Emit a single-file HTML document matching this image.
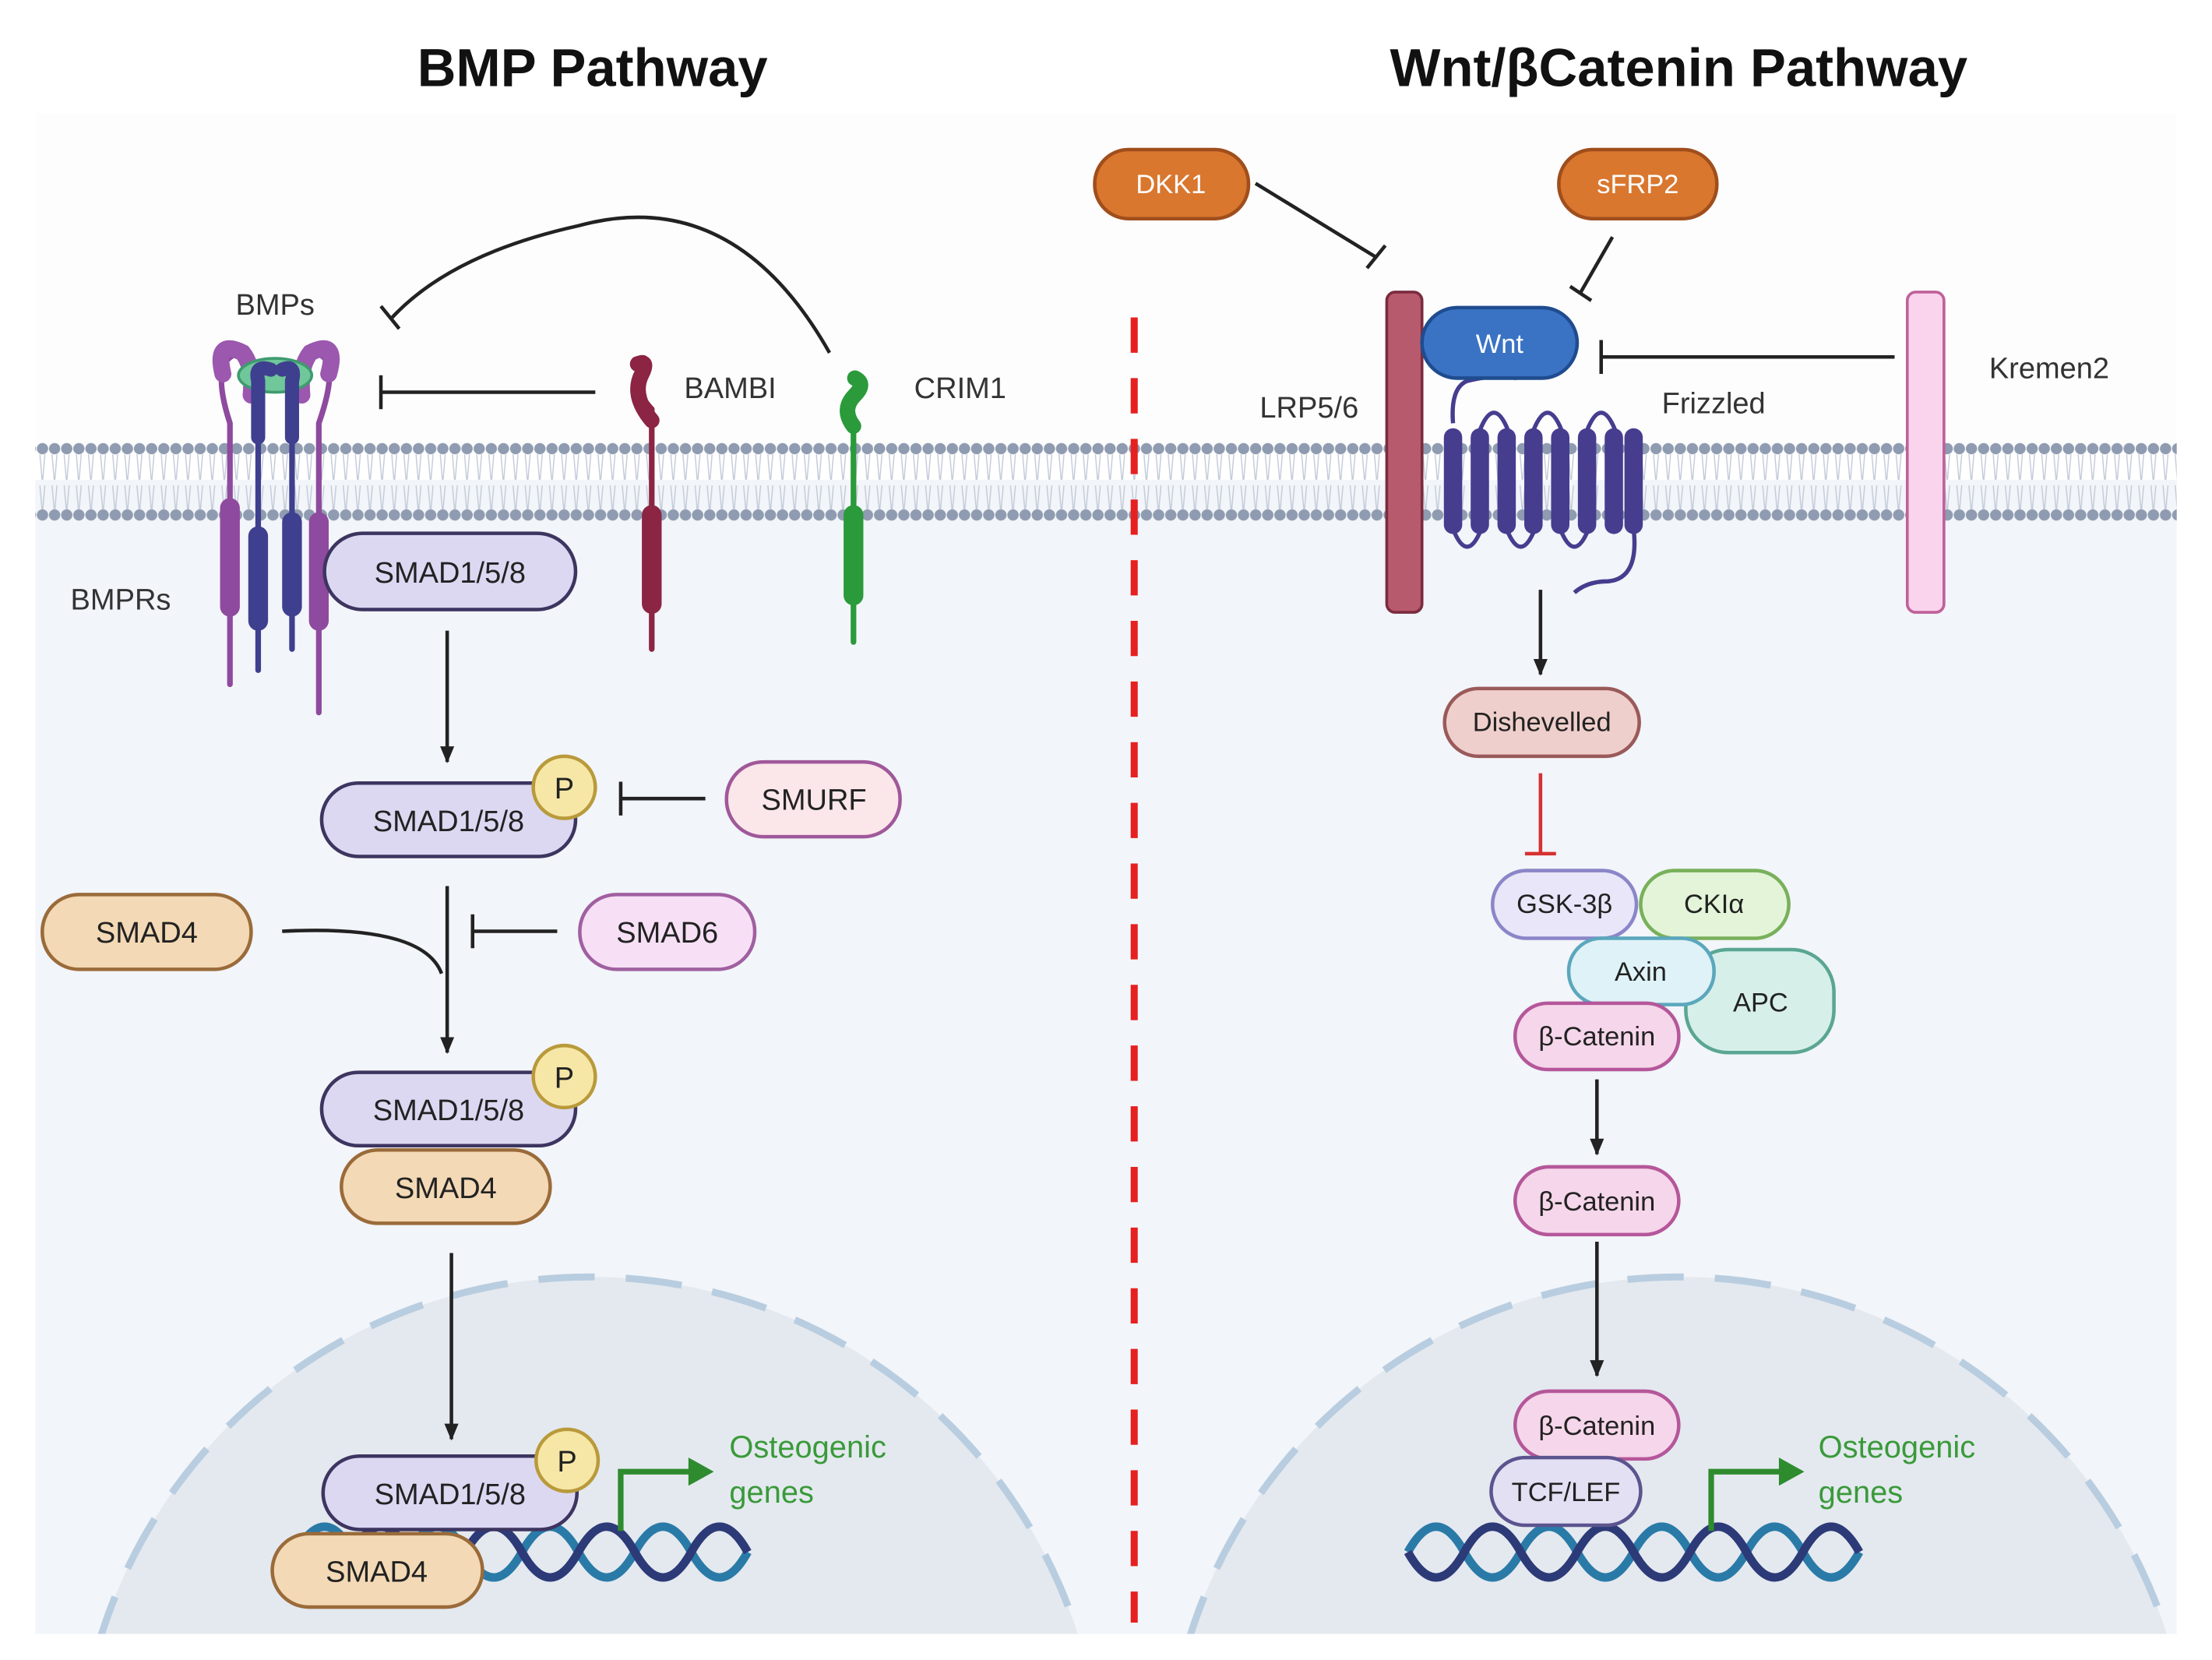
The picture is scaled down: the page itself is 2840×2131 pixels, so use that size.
<!DOCTYPE html>
<html><head><meta charset="utf-8"><style>
html,body{margin:0;padding:0;background:#fff;overflow:hidden;width:2840px;height:2131px}
svg{display:block}
text{font-family:"Liberation Sans",sans-serif}
</style></head><body>
<svg width="2840" height="2131" viewBox="0 0 1568 1176.5" preserveAspectRatio="none" xmlns="http://www.w3.org/2000/svg">
<defs>
<pattern id="mem" x="0" y="312" width="8.6" height="60" patternUnits="userSpaceOnUse">
<circle cx="4.3" cy="6" r="4" fill="#8f9bb0"/>
<circle cx="4.3" cy="53" r="4" fill="#8f9bb0"/>
<path d="M2.5 10 L4 28 M6 10 L4.5 28 M2.5 32 L4 49 M6 32 L4.5 49" stroke="#c3cbd8" stroke-width="0.8" fill="none"/>
</pattern>
<clipPath id="cl"><rect x="25" y="80" width="760" height="1078"/></clipPath>
<clipPath id="cr"><rect x="820" y="80" width="723" height="1078"/></clipPath>
<marker id="ar" markerWidth="12" markerHeight="12" refX="11" refY="6" orient="auto" markerUnits="userSpaceOnUse"><path d="M0 1 L12 6 L0 11Z" fill="#222"/></marker>
</defs>
<rect width="1568" height="1177" fill="#fff"/>
<rect x="25" y="80" width="1518" height="240" fill="#fdfdfe"/>
<rect x="25" y="340" width="1518" height="818" fill="#f2f5f9"/>
<!-- nuclei -->
<g clip-path="url(#cl)"><circle cx="418" cy="1268" r="363" fill="#e4e9ef" stroke="#b9cde0" stroke-width="5" stroke-dasharray="40 22"/></g>
<g clip-path="url(#cr)"><circle cx="1190" cy="1268" r="363" fill="#e4e9ef" stroke="#b9cde0" stroke-width="5" stroke-dasharray="40 22"/></g>
<rect x="25" y="312" width="1518" height="60" fill="url(#mem)"/>
<!-- titles -->
<text x="420" y="61" font-size="38" font-weight="bold" text-anchor="middle" fill="#111">BMP Pathway</text>
<text x="1190" y="61" font-size="38" font-weight="bold" text-anchor="middle" fill="#111">Wnt/βCatenin Pathway</text>
<!-- red dashed -->
<line x1="804" y1="225" x2="804" y2="1150" stroke="#e62020" stroke-width="5" stroke-dasharray="25 18"/>
<!-- BMP receptors -->
<g fill="none" stroke-linecap="round">
<path d="M163 485 V300 Q150 260 165 252 Q180 248 178 265" stroke="#8e4a9e" stroke-width="4"/>
<path d="M226 505 V300 Q240 260 228 252 Q215 248 214 265" stroke="#8e4a9e" stroke-width="4"/>
<path d="M183 475 V310 Q178 280 185 270" stroke="#3f3f8f" stroke-width="4"/>
<path d="M207 460 V310 Q212 280 205 270" stroke="#3f3f8f" stroke-width="4"/>
<path d="M163 360 V430 M226 370 V440" stroke="#8e4a9e" stroke-width="14"/>
<path d="M183 380 V440 M207 370 V430" stroke="#3f3f8f" stroke-width="14"/>
<path d="M158 265 Q152 240 172 250 Q180 260 178 280" stroke="#9b58ae" stroke-width="12"/>
<path d="M233 265 Q240 240 220 250 Q212 260 214 280" stroke="#9b58ae" stroke-width="12"/>
</g>
<ellipse cx="195" cy="266" rx="26" ry="12" fill="#6fc79a" stroke="#3f9b6f" stroke-width="2"/>
<path d="M183 310 V270 Q180 258 192 262 M207 310 V270 Q210 258 200 262" stroke="#3f3f8f" stroke-width="10" fill="none" stroke-linecap="round"/>
<!-- BAMBI -->
<path d="M462 460 V290 Q448 275 455 262 Q462 250 450 255" stroke="#8c2444" stroke-width="4" fill="none" stroke-linecap="round"/>
<path d="M462 365 V428" stroke="#8c2444" stroke-width="14" stroke-linecap="round"/>
<path d="M462 298 Q447 280 455 265 Q460 255 452 258" stroke="#8c2444" stroke-width="11" fill="none" stroke-linecap="round"/>
<!-- CRIM1 -->
<path d="M605 455 V300 Q597 290 605 282 Q615 272 607 268" stroke="#2a9a3a" stroke-width="4" fill="none" stroke-linecap="round"/>
<path d="M605 365 V422" stroke="#2a9a3a" stroke-width="14" stroke-linecap="round"/>
<path d="M605 302 Q596 290 606 280 Q614 272 606 268" stroke="#2a9a3a" stroke-width="11" fill="none" stroke-linecap="round"/>
<!-- inhibition arcs left -->
<g stroke="#222" stroke-width="2.5" fill="none">
<path d="M588 250 Q520 130 410 160 Q320 180 278 225"/>
<path d="M270 217 L283 233"/>
<path d="M422 278 H270 M270 266 V290"/>
<path d="M500 566 H440 M440 554 V578"/>
<path d="M395 660 H335 M335 648 V672"/>
<path d="M200 660 Q300 655 313 690"/>
<line x1="317" y1="447" x2="317" y2="540" marker-end="url(#ar)"/>
<line x1="317" y1="628" x2="317" y2="746" marker-end="url(#ar)"/>
<line x1="320" y1="888" x2="320" y2="1020" marker-end="url(#ar)"/>
</g>
<!-- text left labels -->
<g font-size="21" fill="#333">
<text x="167" y="223">BMPs</text>
<text x="485" y="282">BAMBI</text>
<text x="648" y="282">CRIM1</text>
<text x="50" y="432">BMPRs</text>
</g>
<!-- DNA -->
<g fill="none" stroke-width="6">
<path d="M210 1100 q20 -36 40 0 t40 0 t40 0 t40 0 t40 0 t40 0 t40 0 t40 0" stroke="#2a7aa8"/>
<path d="M210 1100 q20 36 40 0 t40 0 t40 0 t40 0 t40 0 t40 0 t40 0 t40 0" stroke="#2d3a78"/>
<path d="M998 1100 q20 -36 40 0 t40 0 t40 0 t40 0 t40 0 t40 0 t40 0 t40 0" stroke="#2a7aa8"/>
<path d="M998 1100 q20 36 40 0 t40 0 t40 0 t40 0 t40 0 t40 0 t40 0 t40 0" stroke="#2d3a78"/>
</g>
<!-- green arrows -->
<g stroke="#2e8b2e" stroke-width="4" fill="none"><path d="M440 1085 V1043 H490"/><path d="M1213 1085 V1043 H1263"/></g>
<path d="M488 1033 L506 1043 L488 1053Z M1261 1033 L1279 1043 L1261 1053Z" fill="#2e8b2e"/>
<g font-size="22" fill="#3a9a3a">
<text x="517" y="1033">Osteogenic</text><text x="517" y="1065">genes</text>
<text x="1289" y="1033">Osteogenic</text><text x="1289" y="1065">genes</text>
</g>
<!-- left pills -->
<g stroke-width="2.5" font-size="21" text-anchor="middle" fill="#222">
<rect x="230" y="378" width="178" height="54" rx="27" fill="#dcd8f2" stroke="#3d3560"/>
<text x="319" y="413" stroke="none">SMAD1/5/8</text>
<rect x="228" y="555" width="180" height="52" rx="26" fill="#dcd8f2" stroke="#3d3560"/>
<text x="318" y="589" stroke="none">SMAD1/5/8</text>
<rect x="515" y="540" width="123" height="53" rx="26" fill="#fbe6ea" stroke="#a0589a"/>
<text x="577" y="574" stroke="none">SMURF</text>
<rect x="30" y="634" width="148" height="53" rx="26" fill="#f3d9b5" stroke="#9a6b3a"/>
<text x="104" y="668" stroke="none">SMAD4</text>
<rect x="411" y="634" width="124" height="53" rx="26" fill="#f7e0f5" stroke="#a060a0"/>
<text x="473" y="668" stroke="none">SMAD6</text>
<rect x="228" y="760" width="180" height="52" rx="26" fill="#dcd8f2" stroke="#3d3560"/>
<text x="318" y="794" stroke="none">SMAD1/5/8</text>
<rect x="242" y="815" width="148" height="52" rx="26" fill="#f3d9b5" stroke="#9a6b3a"/>
<text x="316" y="849" stroke="none">SMAD4</text>
<rect x="229" y="1032" width="180" height="52" rx="26" fill="#dcd8f2" stroke="#3d3560"/>
<text x="319" y="1066" stroke="none">SMAD1/5/8</text>
<rect x="193" y="1087" width="149" height="52" rx="26" fill="#f3d9b5" stroke="#9a6b3a"/>
<text x="267" y="1121" stroke="none">SMAD4</text>
<circle cx="400" cy="558" r="22" fill="#f6e7a6" stroke="#b99a3b"/><text x="400" y="566" stroke="none">P</text>
<circle cx="400" cy="763" r="22" fill="#f6e7a6" stroke="#b99a3b"/><text x="400" y="771" stroke="none">P</text>
<circle cx="402" cy="1035" r="22" fill="#f6e7a6" stroke="#b99a3b"/><text x="402" y="1043" stroke="none">P</text>
</g>
<!-- right side -->
<rect x="983" y="207" width="25" height="227" rx="6" fill="#b85a6e" stroke="#7a2c3e" stroke-width="2"/>
<rect x="1352" y="207" width="26" height="227" rx="6" fill="#f9d4ec" stroke="#c0609a" stroke-width="2"/>
<g fill="none" stroke="#463d8f" stroke-width="3">
<path d="M1030 300 Q1028 275 1040 270 Q1060 265 1075 268"/>
<path d="M1030 375 q10 25 20 0 M1068 375 q10 25 20 0 M1106 375 q10 25 20 0"/>
<path d="M1049 305 q10 -25 20 0 M1087 305 q10 -25 20 0 M1125 305 q10 -25 20 0"/>
<path d="M1158 375 Q1162 410 1140 412 Q1125 412 1116 420"/>
</g>
<g stroke="#463d8f" stroke-width="13" stroke-linecap="round">
<line x1="1030" y1="310" x2="1030" y2="372"/><line x1="1049" y1="310" x2="1049" y2="372"/>
<line x1="1068" y1="310" x2="1068" y2="372"/><line x1="1087" y1="310" x2="1087" y2="372"/>
<line x1="1106" y1="310" x2="1106" y2="372"/><line x1="1125" y1="310" x2="1125" y2="372"/>
<line x1="1158" y1="310" x2="1158" y2="372"/><line x1="1144" y1="310" x2="1144" y2="372"/>
</g>
<g stroke="#222" stroke-width="2.5" fill="none">
<path d="M890 130 L975 182 M969 190 L982 174"/>
<path d="M1143 168 L1120 208 M1113 203 L1128 213"/>
<path d="M1343 253 H1135 M1135 241 V265"/>
<line x1="1092" y1="418" x2="1092" y2="478" marker-end="url(#ar)"/>
<line x1="1132" y1="765" x2="1132" y2="818" marker-end="url(#ar)"/>
<line x1="1132" y1="880" x2="1132" y2="975" marker-end="url(#ar)"/>
</g>
<path d="M1092 548 V605 M1081 605 H1103" stroke="#d63030" stroke-width="2.5"/>
<g font-size="21" fill="#333">
<text x="893" y="296">LRP5/6</text>
<text x="1178" y="293">Frizzled</text>
<text x="1410" y="268">Kremen2</text>
</g>
<g stroke-width="2.5" font-size="19" text-anchor="middle">
<rect x="776" y="106" width="109" height="49" rx="24" fill="#d9772f" stroke="#a04e1c"/>
<text x="830" y="137" fill="#fff" stroke="none">DKK1</text>
<rect x="1105" y="106" width="112" height="49" rx="24" fill="#d9772f" stroke="#a04e1c"/>
<text x="1161" y="137" fill="#fff" stroke="none">sFRP2</text>
<rect x="1008" y="218" width="110" height="50" rx="25" fill="#3a73c4" stroke="#1f4c8f"/>
<text x="1063" y="250" fill="#fff" stroke="none">Wnt</text>
<rect x="1024" y="488" width="138" height="48" rx="24" fill="#efcfcb" stroke="#9a5a5a"/>
<text x="1093" y="518" fill="#222" stroke="none">Dishevelled</text>
<rect x="1195" y="673" width="105" height="73" rx="30" fill="#d6efe9" stroke="#5aa693"/>
<text x="1248" y="717" fill="#222" stroke="none">APC</text>
<rect x="1058" y="617" width="102" height="48" rx="24" fill="#e8e6f8" stroke="#8a86c8"/>
<text x="1109" y="647" fill="#222" stroke="none">GSK-3β</text>
<rect x="1163" y="617" width="105" height="48" rx="24" fill="#e3f4d8" stroke="#79b05b"/>
<text x="1215" y="647" fill="#222" stroke="none">CKIα</text>
<rect x="1112" y="665" width="103" height="47" rx="23" fill="#dff2f7" stroke="#5ba7bd"/>
<text x="1163" y="695" fill="#222" stroke="none">Axin</text>
<rect x="1074" y="711" width="116" height="47" rx="23" fill="#f6d6ea" stroke="#b5579a"/>
<text x="1132" y="741" fill="#222" stroke="none">β-Catenin</text>
<rect x="1074" y="827" width="116" height="48" rx="24" fill="#f6d6ea" stroke="#b5579a"/>
<text x="1132" y="858" fill="#222" stroke="none">β-Catenin</text>
<rect x="1074" y="986" width="116" height="48" rx="24" fill="#f6d6ea" stroke="#b5579a"/>
<text x="1132" y="1017" fill="#222" stroke="none">β-Catenin</text>
<rect x="1057" y="1033" width="106" height="48" rx="24" fill="#e3e0f4" stroke="#5c548f"/>
<text x="1110" y="1064" fill="#222" stroke="none">TCF/LEF</text>
</g>
</svg>
</body></html>
